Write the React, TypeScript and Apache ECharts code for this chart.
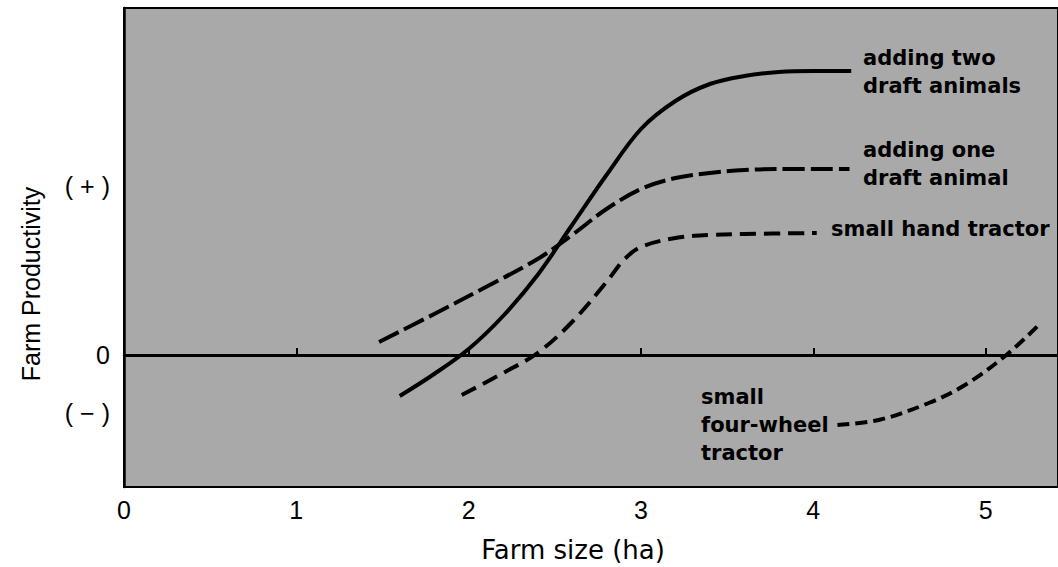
import React, { useEffect, useRef } from "react";
import * as echarts from "echarts";

// Farm size (ha) vs farm productivity (relative units, 0 = break-even)
const xTicks = [0, 1, 2, 3, 4, 5];
const yLabelValues = [-5.8, 0, 16.9];
const yLabelTexts = ["( − )", "0", "( + )"];

const twoDraftAnimals: [number, number][] = [
  [1.6, -4.1], [1.8, -1.9], [2.0, 0.6], [2.2, 3.9], [2.4, 8.0], [2.6, 13.0],
  [2.8, 18.0], [3.0, 22.6], [3.2, 25.4], [3.4, 27.1], [3.6, 27.9], [3.8, 28.3],
  [4.0, 28.4], [4.22, 28.4],
];
const oneDraftAnimal: [number, number][] = [
  [1.48, 1.3], [1.8, 4.1], [2.1, 6.8], [2.4, 9.6], [2.6, 12.0], [2.8, 14.6],
  [3.0, 16.6], [3.2, 17.7], [3.4, 18.2], [3.6, 18.5], [3.8, 18.6], [4.21, 18.6],
];
const smallHandTractor: [number, number][] = [
  [1.96, -4.0], [2.2, -1.8], [2.4, 0.2], [2.6, 3.3], [2.8, 7.3], [2.9, 9.5],
  [3.0, 10.8], [3.2, 11.7], [3.4, 12.0], [3.6, 12.1], [4.02, 12.2],
];
const fourWheelTractor: [number, number][] = [
  [4.14, -7.0], [4.38, -6.5], [4.67, -4.8], [4.88, -3.0], [5.12, 0], [5.32, 3.2],
];

const labelFont = "bold 21px 'DejaVu Sans', sans-serif";

export default function App() {
  const ref = useRef<HTMLDivElement>(null);
  useEffect(() => {
    if (!ref.current) return;
    const chart = echarts.init(ref.current, null, { renderer: "svg" });
    const lineSeries = (name: string, data: [number, number][], type: any, extra: any = {}) => ({
      name,
      type: "line",
      data,
      smooth: 0.35,
      showSymbol: false,
      symbol: "none",
      silent: true,
      lineStyle: { color: "#000", width: 4, type, cap: "butt" },
      ...extra,
    });
    chart.setOption({
      animation: false,
      backgroundColor: "#fff",
      grid: {
        left: 124,
        top: 8,
        right: -4,
        bottom: 80,
        show: true,
        backgroundColor: "#a9a9a9",
        borderColor: "#000",
        borderWidth: 2,
      },
      xAxis: {
        type: "value",
        min: 0,
        max: 5.42,
        interval: 1,
        axisLine: { show: true, lineStyle: { color: "#000", width: 2.5 } },
        axisTick: { show: true, inside: true, length: 7, lineStyle: { color: "#000", width: 2 } },
        axisLabel: {
          color: "#000",
          fontSize: 25,
          fontFamily: "'Liberation Sans', sans-serif",
          margin: 10,
          showMaxLabel: false,
          formatter: (v: number) => (xTicks.includes(v) ? String(v) : ""),
        },
        splitLine: { show: false },
      },
      yAxis: {
        type: "value",
        min: -13.2,
        max: 34.7,
        axisLine: { show: true, lineStyle: { color: "#000", width: 2.5 } },
        axisTick: { show: false },
        axisLabel: {
          color: "#000",
          fontSize: 25,
          fontFamily: "'Liberation Sans', sans-serif",
          margin: 14,
          customValues: yLabelValues,
          formatter: (v: number) => {
            const i = yLabelValues.indexOf(v);
            return i >= 0 ? yLabelTexts[i] : "";
          },
        },
        splitLine: { show: false },
      },
      series: [
        lineSeries("adding two draft animals", twoDraftAnimals, "solid", {
          markLine: {
            silent: true,
            symbol: ["none", "none"],
            label: { show: false },
            lineStyle: { color: "#000", width: 3, type: "solid" },
            data: [{ yAxis: 0 }],
          },
        }),
        lineSeries("adding one draft animal", oneDraftAnimal, [22, 6]),
        lineSeries("small hand tractor", smallHandTractor, [16, 8]),
        lineSeries("small four-wheel tractor", fourWheelTractor, [12, 6]),
      ],
      graphic: [
        {
          type: "text",
          x: 31,
          y: 284,
          rotation: Math.PI / 2,
          style: {
            text: "Farm Productivity",
            font: "25px 'Liberation Sans', sans-serif",
            fill: "#000",
            align: "center",
            verticalAlign: "middle",
          },
        },
        {
          type: "text",
          x: 573,
          y: 550,
          style: {
            text: "Farm size (ha)",
            font: "26px 'DejaVu Sans', sans-serif",
            fill: "#000",
            align: "center",
            verticalAlign: "middle",
          },
        },
        {
          type: "text",
          x: 863,
          y: 44,
          style: { text: "adding two\ndraft animals", font: labelFont, lineHeight: 28, fill: "#000" },
        },
        {
          type: "text",
          x: 863,
          y: 136,
          style: { text: "adding one\ndraft animal", font: labelFont, lineHeight: 28, fill: "#000" },
        },
        {
          type: "text",
          x: 831,
          y: 215,
          style: { text: "small hand tractor", font: labelFont, lineHeight: 28, fill: "#000" },
        },
        {
          type: "text",
          x: 701,
          y: 383,
          style: { text: "small\nfour-wheel\ntractor", font: labelFont, lineHeight: 28, fill: "#000" },
        },
      ],
    });
    return () => chart.dispose();
  }, []);
  return (
    <div
      ref={ref}
      style={{ position: "absolute", left: 0, top: 0, width: 1058, height: 567 }}
    />
  );
}
